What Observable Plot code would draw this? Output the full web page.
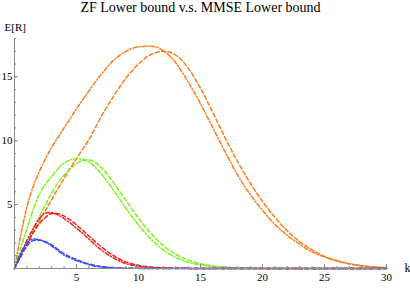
<!DOCTYPE html>
<html>
<head>
<meta charset="utf-8">
<script src="https://cdn.jsdelivr.net/npm/d3@7"></script>
<script src="https://cdn.jsdelivr.net/npm/@observablehq/plot@0.6"></script>
<style>
  html, body { margin: 0; padding: 0; background: white; }
</style>
</head>
<body>
<div id="chart"></div>
<script>
const title = "ZF Lower bound v.s. MMSE Lower bound";
const yLabel = "E[R]";
const xLabel = "k";

const K = [0,0.5,1,1.5,2,2.5,3,3.5,4,4.5,5,5.5,6,7,8,9,10,11,12,13,14,15,16,17,18,19,20,21,22,23,24,25,26,27,28,29,30];

const blueMMSE = [0,1.2,2.0,2.3,2.25,2.05,1.75,1.4,1.05,0.82,0.62,0.45,0.3,0.12,0.05,0.02,0.01,0,0,0,0,0,0,0,0,0,0,0,0,0,0,0,0,0,0,0,0];
const blueZF   = [0,0.95,1.75,2.2,2.22,2.1,1.85,1.5,1.15,0.9,0.7,0.52,0.36,0.15,0.06,0.02,0.01,0,0,0,0,0,0,0,0,0,0,0,0,0,0,0,0,0,0,0,0];
const redMMSE  = [0,1.1,2.2,3.1,3.9,4.35,4.38,4.2,3.9,3.55,3.15,2.75,2.3,1.45,0.82,0.38,0.17,0.08,0.04,0.02,0.01,0,0,0,0,0,0,0,0,0,0,0,0,0,0,0,0];
const redZF    = [0,0.95,1.9,2.8,3.5,4.0,4.3,4.3,4.1,3.8,3.4,3.0,2.55,1.7,1.0,0.5,0.24,0.11,0.05,0.02,0.01,0,0,0,0,0,0,0,0,0,0,0,0,0,0,0,0];
const greenMMSE = [0,1.6,3.1,4.6,5.8,6.6,7.2,7.8,8.25,8.5,8.6,8.55,8.35,7.4,6.1,4.7,3.4,2.3,1.45,0.88,0.5,0.28,0.15,0.08,0.04,0.02,0.01,0,0,0,0,0,0,0,0,0,0];
const greenZF   = [0,1.0,2.0,3.05,4.05,5.0,5.9,6.7,7.3,7.8,8.2,8.45,8.5,7.9,6.7,5.3,3.95,2.75,1.8,1.12,0.66,0.37,0.2,0.1,0.05,0.025,0.01,0,0,0,0,0,0,0,0,0,0];
const orangeMMSE = [0,2.6,4.8,6.4,7.6,8.6,9.5,10.25,11.0,11.75,12.5,13.2,13.9,15.2,16.3,17.0,17.35,17.4,17.05,16.1,14.6,12.9,11.0,9.1,7.3,5.8,4.55,3.45,2.6,1.9,1.3,0.9,0.6,0.38,0.22,0.12,0.06];
const orangeZF   = [0,0.95,1.9,2.8,3.7,4.55,5.4,6.25,7.05,7.85,8.6,9.35,10.1,11.9,13.5,14.9,16.0,16.75,17.0,16.7,15.7,14.1,12.2,10.2,8.35,6.7,5.25,4.0,2.95,2.1,1.45,0.95,0.6,0.35,0.2,0.1,0.05];

const xMajor = [5,10,15,20,25,30];
const xMinor = d3.range(1, 31);
const yMajor = [5,10,15];
const yMinor = d3.range(1, 19);

const colors = {blue: "#3b4cf0", red: "#f0201e", green: "#7ef01e", orange: "#ff7a1a"};
const dashZF = "4,2.5";
const dashMMSE = "4,2,1.2,2";

function rows(vals) { return K.map((k, i) => ({k, v: vals[i]})); }

const series = [
  {vals: orangeZF, color: colors.orange, dash: dashZF},
  {vals: orangeMMSE, color: colors.orange, dash: dashMMSE},
  {vals: greenZF, color: colors.green, dash: dashZF},
  {vals: greenMMSE, color: colors.green, dash: dashMMSE},
  {vals: redZF, color: colors.red, dash: dashZF},
  {vals: redMMSE, color: colors.red, dash: dashMMSE},
  {vals: blueZF, color: colors.blue, dash: dashZF},
  {vals: blueMMSE, color: colors.blue, dash: dashMMSE}
];

const W = 410, H = 289, mT = 38, mB = 21, mL = 14, mR = 24;
const fw = W - mL - mR, fh = H - mT - mB;
const axisColor = "#8a8a8a";

const chart = Plot.plot({
  width: W, height: H,
  marginTop: mT, marginBottom: mB, marginLeft: mL, marginRight: mR,
  x: {domain: [0, 30], axis: null},
  y: {domain: [0, 18], axis: null},
  style: {fontFamily: "'Liberation Serif', 'DejaVu Serif', serif", fontSize: "11px", background: "white"},
  marks: [
    ...series.map(s => Plot.line(rows(s.vals), {x: "k", y: "v", stroke: s.color, strokeWidth: 1.5, strokeDasharray: s.dash, curve: "monotone-x"})),
    Plot.ruleY([0], {stroke: axisColor, strokeWidth: 1}),
    Plot.ruleX([0], {stroke: axisColor, strokeWidth: 1}),
    Plot.ruleX(xMinor, {x: d => d, insetTop: fh - 2, stroke: axisColor}),
    Plot.ruleX(xMajor, {x: d => d, insetTop: fh - 4, stroke: axisColor}),
    Plot.ruleY(yMinor, {y: d => d, insetRight: fw - 2, stroke: axisColor}),
    Plot.ruleY(yMajor, {y: d => d, insetRight: fw - 4, stroke: axisColor}),
    Plot.axisX({ticks: xMajor, tickSize: 0, tickPadding: 5, label: null, tickFormat: d => String(d), fontSize: 11}),
    Plot.axisY({ticks: yMajor, tickSize: 0, tickPadding: 2, label: null, tickFormat: d => String(d), fontSize: 11}),
    Plot.text([title], {frameAnchor: "top", lineAnchor: "bottom", dy: -27, fontSize: 14, fill: "black"}),
    Plot.text([yLabel], {frameAnchor: "top-left", textAnchor: "start", lineAnchor: "bottom", dx: -10, dy: -8, fontSize: 11, fill: "black"}),
    Plot.text([xLabel], {frameAnchor: "bottom-right", textAnchor: "start", lineAnchor: "middle", dx: 18, fontSize: 12, fill: "black"})
  ]
});
document.getElementById("chart").appendChild(chart);
</script>
</body>
</html>
